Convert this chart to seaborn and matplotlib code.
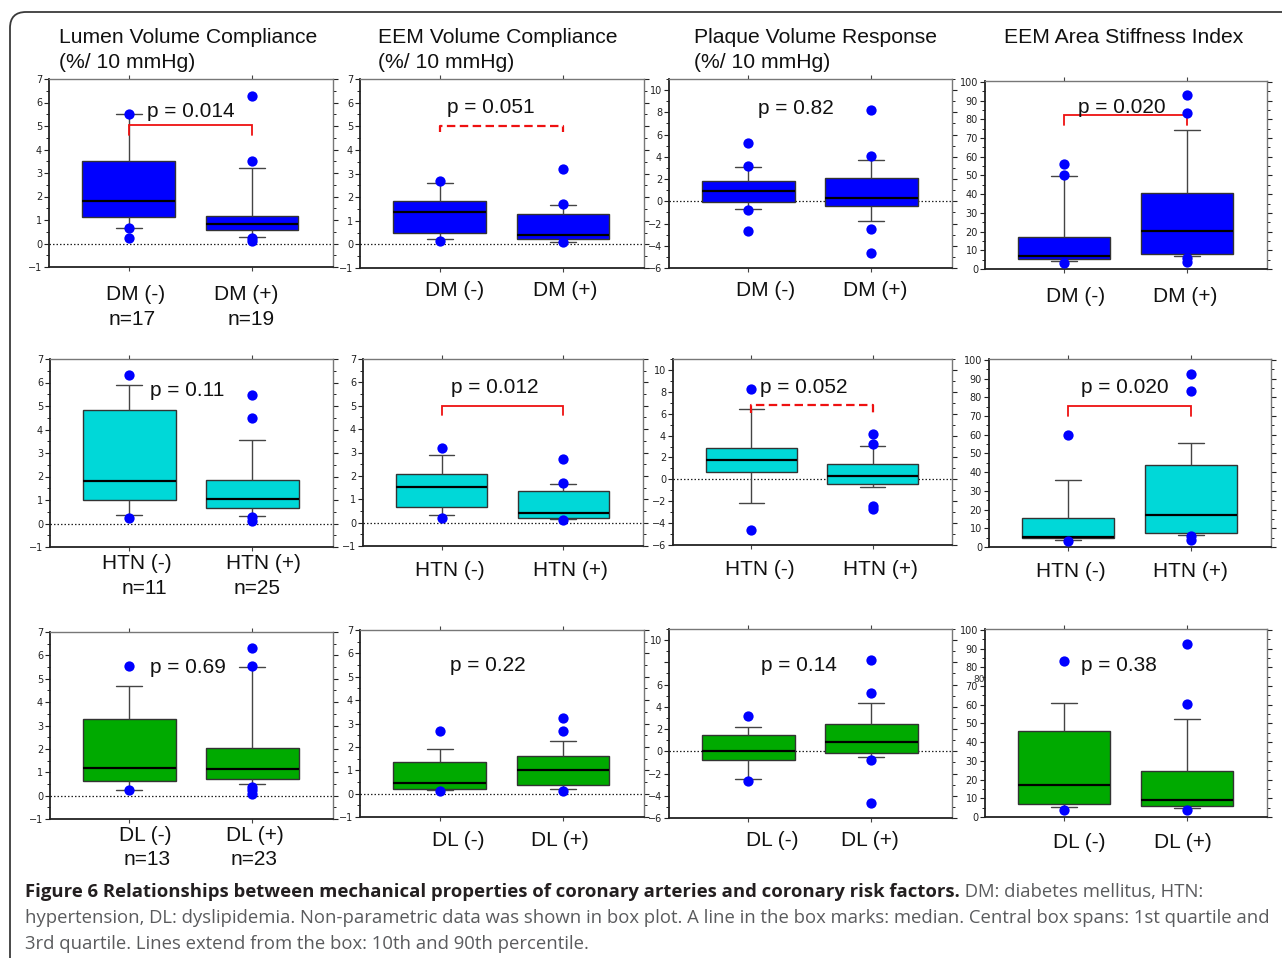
import numpy as np
import pandas as pd
import matplotlib
matplotlib.use("Agg")
import matplotlib.pyplot as plt
import seaborn as sns
from matplotlib.patches import FancyBboxPatch
from matplotlib.ticker import MultipleLocator, FuncFormatter
from matplotlib.transforms import IdentityTransform

# ---------------- data ----------------
factors = ["DM", "HTN", "DL"]
titles = [["Lumen Volume Compliance", "(%/ 10 mmHg)"],
          ["EEM Volume Compliance", "(%/ 10 mmHg)"],
          ["Plaque Volume Response", "(%/ 10 mmHg)"],
          ["EEM Area Stiffness Index"]]
n_labels = {"DM": ["n=17", "n=19"], "HTN": ["n=11", "n=25"], "DL": ["n=13", "n=23"]}

# box stats per group: [10th pct, Q1, median, Q3, 90th pct]  -> [(-), (+)]
lumen_dm_box = [[0.65, 1.11, 1.79, 3.50, 5.53], [0.28, 0.57, 0.83, 1.19, 3.20]]
lumen_dm_out = [[5.53, 0.64, 0.23], [6.27, 3.53, 0.24, 0.09]]
eem_dm_box = [[0.21, 0.49, 1.37, 1.83, 2.58], [0.11, 0.24, 0.38, 1.27, 1.65]]
eem_dm_out = [[2.70, 0.15], [3.20, 1.69, 0.10]]
plaque_dm_box = [[-0.72, -0.09, 0.93, 1.83, 3.09], [-1.77, -0.42, 0.30, 2.13, 3.72]]
plaque_dm_out = [[5.22, 3.15, -0.75, -2.67], [8.20, 4.05, -2.52, -4.62]]
stiff_dm_box = [[4.1, 5.2, 6.9, 17.3, 49.6], [6.8, 7.8, 20.5, 40.4, 74.2]]
stiff_dm_out = [[55.9, 50.5, 3.4], [93.0, 83.5, 5.8, 3.6]]

lumen_htn_box = [[0.38, 0.98, 1.82, 4.82, 5.89], [0.33, 0.65, 1.05, 1.86, 3.56]]
lumen_htn_out = [[6.30, 0.23], [5.46, 4.50, 0.26, 0.09]]
eem_htn_box = [[0.34, 0.67, 1.54, 2.09, 2.91], [0.17, 0.21, 0.41, 1.34, 1.67]]
eem_htn_out = [[3.21, 0.20], [2.71, 1.70, 0.10]]
plaque_htn_box = [[-2.14, 0.70, 1.80, 2.90, 6.39], [-0.67, -0.46, 0.28, 1.41, 3.09]]
plaque_htn_out = [[8.23, -4.65], [4.10, 3.24, -2.45, -2.72]]
stiff_htn_box = [[3.5, 4.6, 5.5, 15.4, 35.8], [6.2, 7.3, 17.2, 43.6, 55.5]]
stiff_htn_out = [[60.1, 3.4], [92.6, 83.2, 5.9, 3.7]]

lumen_dl_box = [[0.26, 0.64, 1.17, 3.29, 4.71], [0.48, 0.71, 1.12, 2.05, 5.50]]
lumen_dl_out = [[5.53, 0.24], [6.30, 5.53, 0.37, 0.24, 0.09]]
eem_dl_box = [[0.15, 0.19, 0.45, 1.37, 1.89], [0.20, 0.36, 1.03, 1.63, 2.23]]
eem_dl_out = [[2.70, 0.12], [3.22, 2.70, 0.13]]
plaque_dl_box = [[-2.49, -0.75, 0.00, 1.47, 2.19], [-0.51, -0.12, 0.87, 2.49, 4.35]]
plaque_dl_out = [[3.21, -2.70], [8.17, 5.23, -0.75, -4.65]]
stiff_dl_box = [[5.5, 7.1, 17.3, 45.8, 61.1], [4.8, 5.8, 9.0, 24.6, 52.6]]
stiff_dl_out = [[83.2, 3.7], [92.4, 60.2, 3.7]]

p_dm = ["0.014", "0.051", "0.82", "0.020"]
p_htn = ["0.11", "0.012", "0.052", "0.020"]
p_dl = ["0.69", "0.22", "0.14", "0.38"]

# brackets: (top level, leg end, style)
bracket_dm = [(5.05, 4.62, "solid"), (5.03, 4.77, "dashed"), None, (82.2, 76.9, "solid")]
bracket_htn = [None, (5.01, 4.60, "solid"), (6.82, 6.10, "dashed"), (75.5, 70.2, "solid")]
bracket_dl = [None, None, None, None]

caption_bold = "Figure 6 Relationships between mechanical properties of coronary arteries and coronary risk factors."
caption_reg1 = " DM: diabetes mellitus, HTN:"
caption_line2 = ("hypertension, DL: dyslipidemia. Non-parametric data was shown in box plot. "
                 "A line in the box marks: median. Central box spans: 1st quartile and")
caption_line3 = "3rd quartile. Lines extend from the box: 10th and 90th percentile."

# ---------------- layout ----------------
W, H = 1282, 958
sns.set_theme(style="white")
plt.rcParams["font.family"] = ["Liberation Sans", "DejaVu Sans"]
fig = plt.figure(figsize=(W / 100, H / 100), dpi=100)
fig.patch.set_facecolor("white")


def fx(x):
    return x / W


def fy(y):
    return 1 - y / H


def ftext(x, y, s, **kw):
    kw.setdefault("family", ["Liberation Sans", "DejaVu Sans"])
    kw.setdefault("color", "#111111")
    return fig.text(fx(x), fy(y), s, **kw)


# frame
frame = FancyBboxPatch((10, -60), 1400, (H - 12) + 60,
                       boxstyle="round,pad=0,rounding_size=16",
                       transform=IdentityTransform(), fill=False,
                       edgecolor="#3a3a3a", linewidth=1.3)
fig.add_artist(frame)

rows = [
    dict(f="DM", boxes=[lumen_dm_box, eem_dm_box, plaque_dm_box, stiff_dm_box],
         outs=[lumen_dm_out, eem_dm_out, plaque_dm_out, stiff_dm_out],
         p=p_dm, br=bracket_dm, color="#0000ff"),
    dict(f="HTN", boxes=[lumen_htn_box, eem_htn_box, plaque_htn_box, stiff_htn_box],
         outs=[lumen_htn_out, eem_htn_out, plaque_htn_out, stiff_htn_out],
         p=p_htn, br=bracket_htn, color="#00d8d8"),
    dict(f="DL", boxes=[lumen_dl_box, eem_dl_box, plaque_dl_box, stiff_dl_box],
         outs=[lumen_dl_out, eem_dl_out, plaque_dl_out, stiff_dl_out],
         p=p_dl, br=bracket_dl, color="#00aa00"),
]

axes_px = [
    [(49, 79, 333, 267), (360, 79, 644, 268), (669, 79, 952, 268), (985, 81, 1267, 269)],
    [(50, 359, 333, 547), (363, 359, 643, 546), (673, 359, 952, 545), (989, 359, 1271, 547)],
    [(50, 632, 333, 819), (360, 630, 644, 817), (669, 629, 952, 818), (985, 629, 1267, 817)],
]
p_pos = [
    [(147, 117), (447, 113), (758, 114), (1078, 113)],
    [(150, 396), (451, 393), (760, 393), (1081, 393)],
    [(150, 673), (450, 671), (761, 671), (1081, 671)],
]
cat_pos = [
    [((136, 300), (246, 300)), ((455, 296), (565, 296)), ((766, 296), (875, 296)), ((1076, 302), (1185, 302))],
    [((137, 569), (263, 569)), ((450, 576), (570, 576)), ((760, 575), (880, 575)), ((1071, 577), (1190, 577))],
    [((145, 841), (255, 841)), ((458, 846), (560, 846)), ((772, 846), (870, 846)), ((1079, 848), (1183, 848))],
]
n_pos = [((132, 325), (251, 325)), ((144, 594), (257, 594)), ((147, 865), (254, 865))]
title_x = [59, 378, 694, 1004]

ycfg = [
    dict(ylim=(-1, 7), major=1, minor=0.5, zero=True),
    dict(ylim=(-1, 7), major=1, minor=0.5, zero=True),
    dict(ylim=(-6, 11), major=2, minor=1, zero=True),
    dict(ylim=(0, 100.5), major=10, minor=5, zero=False),
]

# titles
for c, t in enumerate(titles):
    ftext(title_x[c], 43, t[0], fontsize=15.2)
    if len(t) > 1:
        ftext(title_x[c], 68, t[1], fontsize=15.2)

for r, row in enumerate(rows):
    f = row["f"]
    cats = [f"{f} (-)", f"{f} (+)"]
    for c in range(4):
        l, t, rr, b = axes_px[r][c]
        ax = fig.add_axes([fx(l), fy(b), (rr - l) / W, (b - t) / H])
        ax.set_facecolor("white")
        box = row["boxes"][c]
        out = row["outs"][c]
        df = pd.DataFrame({"group": np.repeat(cats, 5),
                           "value": np.concatenate(box)})
        sns.boxplot(data=df, x="group", y="value", order=cats, whis=(0, 100),
                    width=0.75, color=row["color"], saturation=1,
                    linecolor="#333333", linewidth=1.0, showfliers=False,
                    medianprops=dict(color="black", linewidth=1.6),
                    whiskerprops=dict(color="#444444", linewidth=1.0),
                    capprops=dict(color="#444444", linewidth=1.0),
                    ax=ax)
        # narrower caps
        for ln in ax.lines:
            xd = np.asarray(ln.get_xdata(), dtype=float)
            yd = np.asarray(ln.get_ydata(), dtype=float)
            if len(xd) == 2 and yd[0] == yd[1] and (xd[1] - xd[0]) < 0.6:
                cx = xd.mean()
                ln.set_xdata([cx - 0.105, cx + 0.105])
        odf = pd.DataFrame({"group": np.concatenate([[cats[i]] * len(o) for i, o in enumerate(out)]),
                            "value": np.concatenate(out)})
        sns.stripplot(data=odf, x="group", y="value", order=cats, jitter=False,
                      color="#0000ff", size=7.4, linewidth=0, ax=ax, zorder=4)
        cfg = ycfg[c]
        if cfg["zero"]:
            ax.axhline(0, color="#222222", lw=0.9, ls=(0, (1.2, 1.6)), zorder=0.9)
        br = row["br"][c]
        if br is not None:
            top, leg, style = br
            ls = "-" if style == "solid" else (0, (3.8, 2.0))
            ax.plot([0, 0, 1, 1], [leg, top, top, leg], color="#ee1111",
                    lw=1.3 if style == "solid" else 1.6, ls=ls, zorder=3,
                    solid_joinstyle="miter")
        ax.set_xlim(-0.645, 1.655)
        ax.set_ylim(*cfg["ylim"])
        ax.set_xlabel("")
        ax.set_ylabel("")
        ax.set_xticks([0, 1])
        ax.set_xticklabels(["", ""])
        ax.yaxis.set_major_locator(MultipleLocator(cfg["major"]))
        ax.yaxis.set_minor_locator(MultipleLocator(cfg["minor"]))
        if r == 2 and c == 2:
            ax.yaxis.set_major_formatter(FuncFormatter(
                lambda v, p: "" if abs(v - 8) < 1e-6 else f"{int(round(v))}".replace("-", "\u2212")))
        ax.tick_params(axis="y", which="both", left=True, right=True, direction="out",
                       labelsize=7, pad=1.5, colors="#222222")
        ax.tick_params(axis="y", which="major", length=3.5, width=0.8)
        ax.tick_params(axis="y", which="minor", length=2, width=0.7)
        ax.tick_params(axis="x", which="major", top=True, bottom=True, direction="out",
                       length=3, width=0.8, colors="#444444")
        for lab in ax.get_yticklabels():
            lab.set_family("DejaVu Sans")
        for side in ["left", "bottom"]:
            ax.spines[side].set_color("#222222")
            ax.spines[side].set_linewidth(1.3)
        for side in ["top", "right"]:
            ax.spines[side].set_color("#777777")
            ax.spines[side].set_linewidth(1.0)
        ax.grid(False)

        # p-value text
        px_, py_ = p_pos[r][c]
        ftext(px_, py_, f"p = {row['p'][c]}", fontsize=15)
        # category labels
        for i in range(2):
            cxp, cyp = cat_pos[r][c][i]
            ftext(cxp, cyp, cats[i], fontsize=15, ha="center")
        if c == 0:
            for i in range(2):
                nx_, ny_ = n_pos[r][i]
                ftext(nx_, ny_, n_labels[f][i], fontsize=15, ha="center")

# stray label as in the reference
ftext(973, 682, "80", fontsize=6.5, family="DejaVu Sans", color="#333333")

# ---------------- caption ----------------
renderer = fig.canvas.get_renderer()
cap_font = ["Open Sans", "DejaVu Sans"]
gray = "#5a5b5d"
t2 = ftext(25, 923, caption_line2, fontsize=12, family=cap_font, color=gray)
w2 = t2.get_window_extent(renderer).width
fs = 12 * 1236 / w2
t2.set_fontsize(fs)
ftext(25, 949, caption_line3, fontsize=fs, family=cap_font, color=gray)
tb = ftext(25, 897, caption_bold, fontsize=fs, family=cap_font, weight="bold", color="#231f20")
wb = tb.get_window_extent(renderer).width
fsb = min(fs * 1.05, fs * 935 / wb)
tb.set_fontsize(fsb)
wb = tb.get_window_extent(renderer).width
ftext(25 + wb, 897, caption_reg1, fontsize=fs, family=cap_font, color=gray)

fig.savefig("out.png", dpi=100)
